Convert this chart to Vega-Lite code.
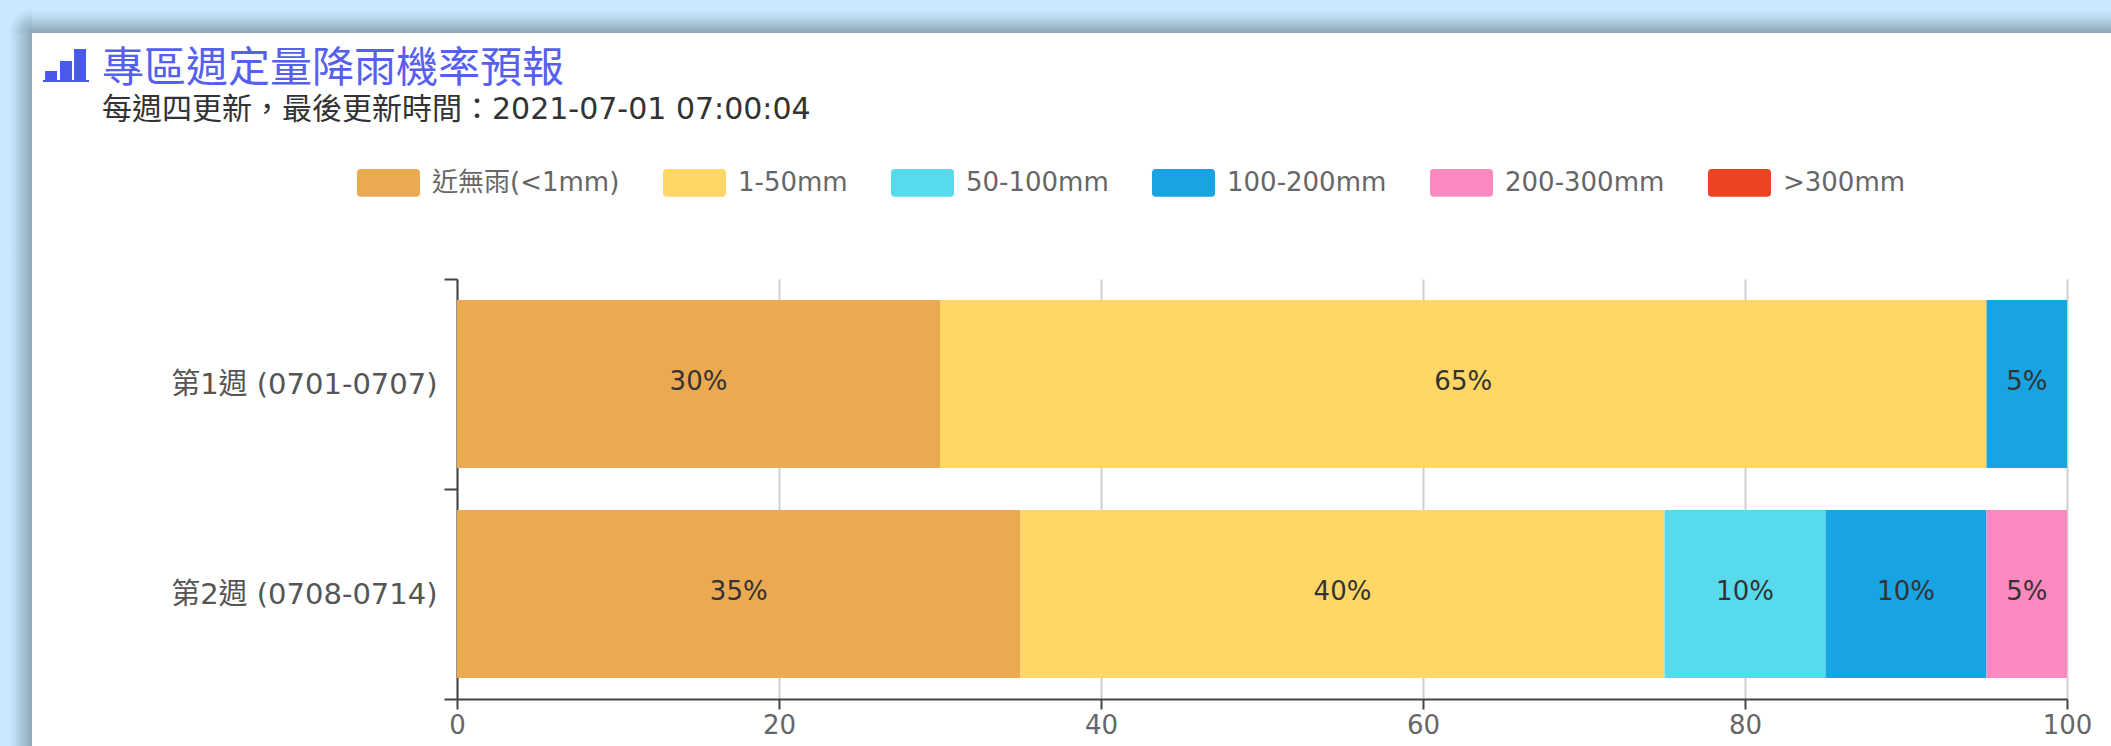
{
  "$schema": "https://vega.github.io/schema/vega-lite/v6.json",
  "autosize": "none",
  "width": 1610,
  "height": 420,
  "padding": {"left": 457, "top": 279, "right": 44, "bottom": 47},
  "background": "#ffffff",
  "config": {
    "view": {"stroke": null},
    "font": "DejaVu Sans, Noto Sans CJK TC"
  },
  "title": {
    "text": "專區週定量降雨機率預報",
    "subtitle": "每週四更新\uFF0C最後更新時間\uFF1A2021-07-01 07:00:04",
    "anchor": "start",
    "frame": "group",
    "dx": -355,
    "offset": -126,
    "zindex": 1,
    "font": "Noto Sans CJK TC",
    "fontSize": 42,
    "fontWeight": "normal",
    "color": "#5560ee",
    "limit": 1500,
    "subtitleFont": "DejaVu Sans, Noto Sans CJK TC",
    "subtitleFontSize": 30,
    "subtitleColor": "#333333",
    "subtitlePadding": 4
  },
  "data": {
    "values": [
      {"week": "第1週 (0701-0707)", "cat": "近無雨(<1mm)", "k": 1, "pct": 30},
      {"week": "第1週 (0701-0707)", "cat": "1-50mm", "k": 2, "pct": 65},
      {"week": "第1週 (0701-0707)", "cat": "100-200mm", "k": 4, "pct": 5},
      {"week": "第2週 (0708-0714)", "cat": "近無雨(<1mm)", "k": 1, "pct": 35},
      {"week": "第2週 (0708-0714)", "cat": "1-50mm", "k": 2, "pct": 40},
      {"week": "第2週 (0708-0714)", "cat": "50-100mm", "k": 3, "pct": 10},
      {"week": "第2週 (0708-0714)", "cat": "100-200mm", "k": 4, "pct": 10},
      {"week": "第2週 (0708-0714)", "cat": "200-300mm", "k": 5, "pct": 5}
    ]
  },
  "transform": [
    {"stack": "pct", "groupby": ["week"], "sort": [{"field": "k", "order": "ascending"}], "as": ["p0", "p1"]},
    {"calculate": "(datum.p0 + datum.p1) / 2", "as": "mid"},
    {"calculate": "datum.pct + '%'", "as": "label"}
  ],
  "layer": [
    {
      "data": {"values": [{"part": "frame"}]},
      "mark": {"type": "rect", "clip": false, "fill": {"gradient": "linear", "x1": 0, "y1": 0, "x2": 0, "y2": 1, "stops": [{"offset": 0.3, "color": "#c8e9fe"}, {"offset": 0.5, "color": "#bddcf1"}, {"offset": 0.7, "color": "#a9c8dc"}, {"offset": 0.85, "color": "#9bb6c8"}, {"offset": 1, "color": "#8ea7b8"}]}},
      "encoding": {"x": {"value": -425}, "x2": {"value": 1654}, "y": {"value": -279}, "y2": {"value": -246}}
    },
    {
      "data": {"values": [{"part": "frame"}]},
      "mark": {"type": "rect", "clip": false, "fill": {"gradient": "linear", "x1": 0, "y1": 0, "x2": 1, "y2": 0, "stops": [{"offset": 0.28, "color": "#c8e9fe"}, {"offset": 0.47, "color": "#bddcf1"}, {"offset": 0.66, "color": "#a9c8dc"}, {"offset": 0.85, "color": "#9bb6c8"}, {"offset": 1, "color": "#8ea7b8"}]}},
      "encoding": {"x": {"value": -457}, "x2": {"value": -425}, "y": {"value": -246}, "y2": {"value": 467}}
    },
    {
      "data": {"values": [{"part": "frame"}]},
      "mark": {"type": "rect", "clip": false, "fill": {"gradient": "radial", "x1": 1, "y1": 1, "r1": 0, "x2": 1, "y2": 1, "r2": 1, "stops": [{"offset": 0, "color": "#8ea7b8"}, {"offset": 0.2, "color": "#9bb6c8"}, {"offset": 0.4, "color": "#a9c8dc"}, {"offset": 0.58, "color": "#bddcf1"}, {"offset": 0.75, "color": "#c8e9fe"}]}},
      "encoding": {"x": {"value": -457}, "x2": {"value": -425}, "y": {"value": -279}, "y2": {"value": -246}}
    },
    {
      "data": {"values": [{"part": "icon"}]},
      "mark": {"type": "point", "filled": true, "clip": false, "opacity": 1, "color": "#4a5ae8", "size": 2116, "shape": "M-1 .717V.63H-.91V.24H-.39V.63H-.26V-.196H.26V.63H.35V-.717H.87V.63H1V.717Z"},
      "encoding": {"x": {"value": -391}, "y": {"value": -213.5}}
    },
    {
      "mark": {"type": "bar", "size": 168},
      "encoding": {
        "y": {
          "field": "week", "type": "nominal", "title": null,
          "scale": {"padding": 0},
          "axis": {"tickBand": "extent", "tickSize": 13, "tickWidth": 2, "tickColor": "#444444", "domainColor": "#444444", "domainWidth": 2, "labelFontSize": 29, "labelColor": "#555555", "labelPadding": 7, "labelLimit": 400}
        },
        "x": {
          "field": "p0", "type": "quantitative", "title": null,
          "scale": {"domain": [0, 100], "nice": false},
          "axis": {"values": [0, 20, 40, 60, 80, 100], "tickSize": 10, "tickWidth": 2, "tickColor": "#444444", "domainColor": "#444444", "domainWidth": 2, "gridColor": "#cfcfcf", "gridWidth": 2, "labelFontSize": 26, "labelColor": "#666666", "labelPadding": 3, "labelFlush": false}
        },
        "x2": {"field": "p1"},
        "color": {
          "field": "cat", "type": "nominal",
          "scale": {
            "domain": ["近無雨(<1mm)", "1-50mm", "50-100mm", "100-200mm", "200-300mm", ">300mm"],
            "range": ["#eba952", "#fed766", "#57dbec", "#18a3e2", "#fe89c0", "#ec4423"]
          },
          "legend": {
            "title": null,
            "orient": "none",
            "legendX": -100,
            "legendY": -128,
            "direction": "horizontal",
            "columns": 6,
            "columnPadding": 43,
            "symbolType": "M-1 -.32Q-1 -.44 -.88 -.44H.88Q1 -.44 1 -.32V.32Q1 .44 .88 .44H-.88Q-1 .44 -1 .32Z",
            "symbolSize": 3969,
            "symbolStrokeWidth": 0,
            "symbolOpacity": 1,
            "labelFontSize": 26,
            "labelColor": "#666666",
            "labelOffset": 12,
            "labelLimit": 400
          }
        }
      }
    },
    {
      "mark": {"type": "text", "fontSize": 26, "color": "#333333", "dy": -2},
      "encoding": {
        "y": {"field": "week", "type": "nominal"},
        "x": {"field": "mid", "type": "quantitative"},
        "text": {"field": "label", "type": "nominal"}
      }
    }
  ]
}
